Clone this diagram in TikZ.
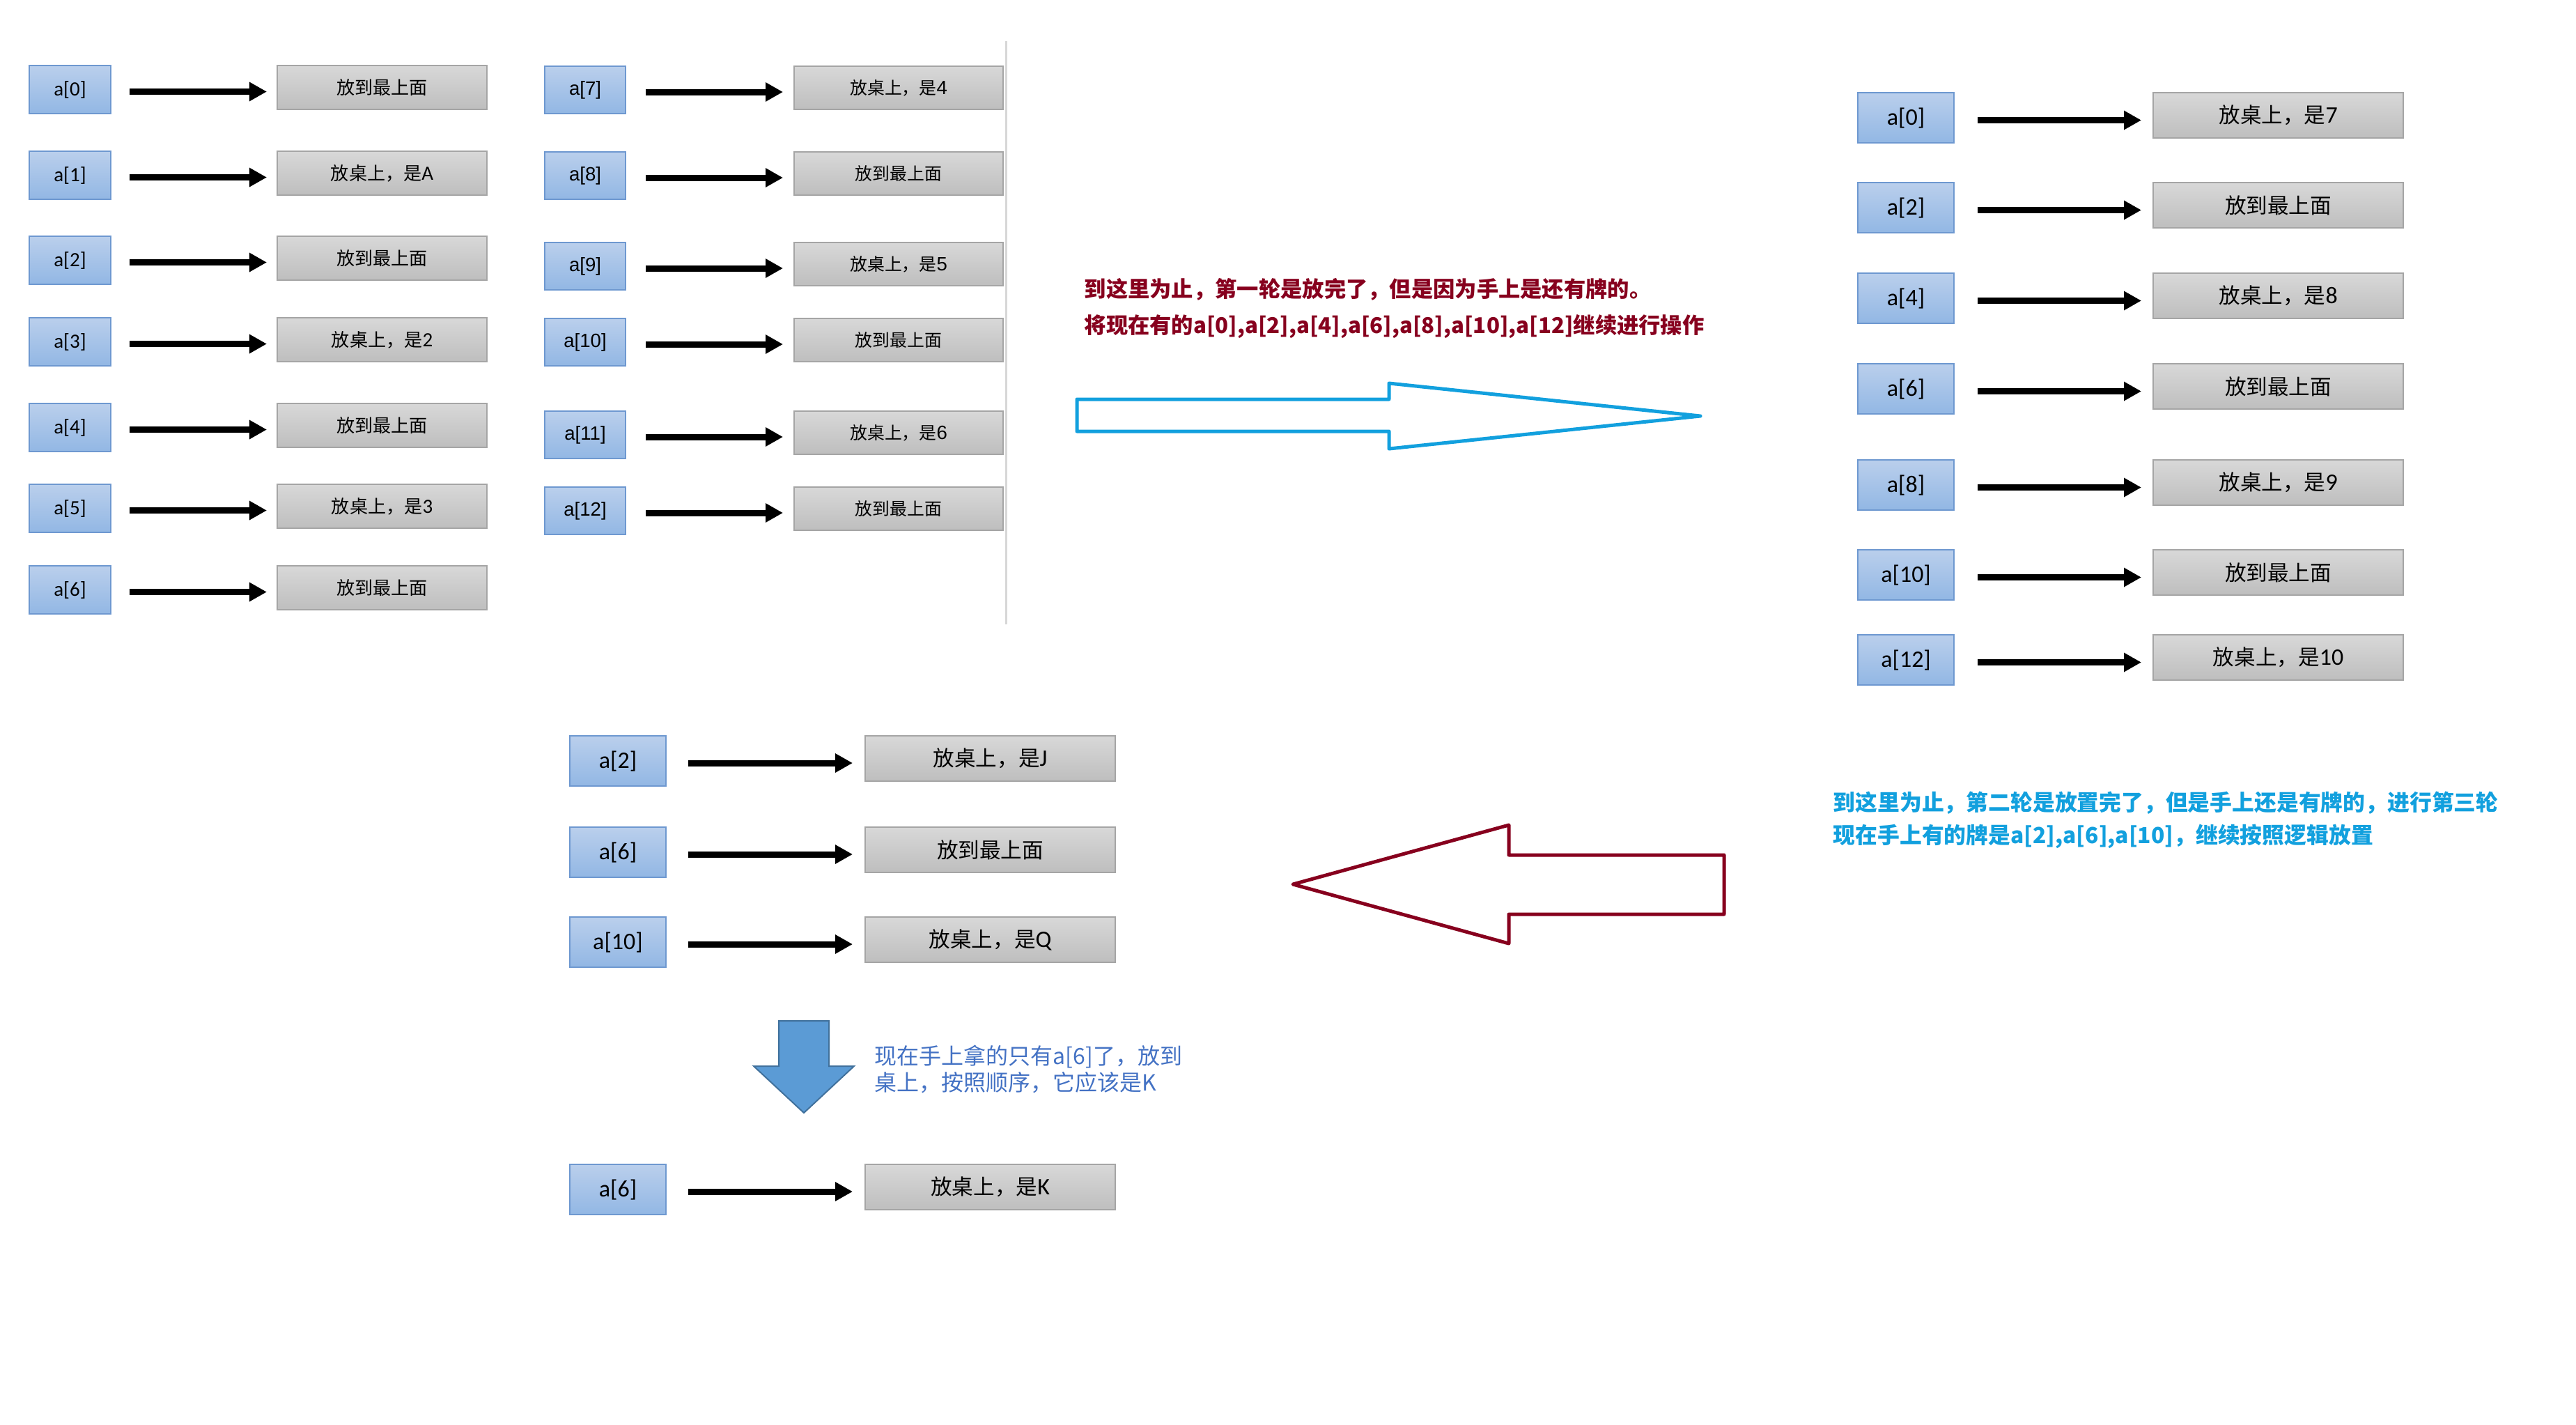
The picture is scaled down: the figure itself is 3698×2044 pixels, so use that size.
\documentclass[tikz,border=0pt]{standalone}
\usepackage{fontspec}
\setmainfont{Carlito}
\newfontfamily\arialf{Liberation Sans}
\newfontfamily\cjk[Scale=0.9]{Noto Sans CJK SC}
\newfontfamily\cjkt{Noto Sans CJK SC}
\usetikzlibrary{arrows.meta,calc}
\newcommand\zh[1]{{\cjk #1}}
\newcommand\conlink[5]{\draw[conn] ($(#1.north east)+(#3,#5)$) -- ($(#2.north west)+(-#4,#5)$);}
\definecolor{btop}{RGB}{186,207,236}
\definecolor{bbot}{RGB}{146,183,228}
\definecolor{bbord}{RGB}{110,152,208}
\definecolor{gtop}{RGB}{216,216,216}
\definecolor{gbot}{RGB}{190,190,190}
\definecolor{gbord}{RGB}{165,165,165}
\definecolor{myred}{RGB}{135,0,30}
\definecolor{mycyan}{RGB}{18,160,222}
\definecolor{myblue}{RGB}{68,114,196}
\definecolor{afill}{RGB}{91,155,213}
\definecolor{aline}{RGB}{65,113,156}
\definecolor{vline}{RGB}{215,215,215}
\tikzset{
  bluebox/.style={draw=bbord, line width=0.02cm, top color=btop, bottom color=bbot, inner sep=0pt, anchor=north west, text=black},
  graybox/.style={draw=gbord, line width=0.02cm, top color=gtop, bottom color=gbot, inner sep=0pt, anchor=north west, text=black},
  conn/.style={line width=0.09cm, -{Triangle[length=0.25cm,width=0.26cm]}},
  bA/.style={bluebox, minimum width=1.17cm, minimum height=0.69cm, font=\fontsize{8.25}{10}\selectfont},
  gA/.style={graybox, minimum width=3.01cm, minimum height=0.63cm, font=\fontsize{8.25}{10}\selectfont},
  bB/.style={bluebox, minimum width=1.16cm, minimum height=0.68cm, font=\arialf\fontsize{7.85}{10}\selectfont},
  gB/.style={graybox, minimum width=3.00cm, minimum height=0.62cm, font=\arialf\fontsize{7.85}{10}\selectfont},
  bC/.style={bluebox, minimum width=1.38cm, minimum height=0.72cm, font=\fontsize{9.67}{11}\selectfont},
  gC/.style={graybox, minimum width=3.59cm, minimum height=0.65cm, font=\fontsize{9.67}{11}\selectfont},
  note/.style={inner sep=0pt, anchor=west},
  hollow/.style={line width=0.05cm, line join=round},
}
\begin{document}
\begin{tikzpicture}[x=0.01cm, y=-0.01cm]
\fill[white] (0,0) rectangle (3698,2044);
\useasboundingbox (0,0) rectangle (3698,2044);

% ---- group 1 ----
\node[bA] (a0) at (41,93)  {a[0]}; \node[gA] (c0) at (397,93)  {\zh{放到最上面}};
\node[bA] (a1) at (41,216) {a[1]}; \node[gA] (c1) at (397,216) {\zh{放桌上，是}A};
\node[bA] (a2) at (41,338) {a[2]}; \node[gA] (c2) at (397,338) {\zh{放到最上面}};
\node[bA] (a3) at (41,455) {a[3]}; \node[gA] (c3) at (397,455) {\zh{放桌上，是}2};
\node[bA] (a4) at (41,578) {a[4]}; \node[gA] (c4) at (397,578) {\zh{放到最上面}};
\node[bA] (a5) at (41,694) {a[5]}; \node[gA] (c5) at (397,694) {\zh{放桌上，是}3};
\node[bA] (a6) at (41,811) {a[6]}; \node[gA] (c6) at (397,811) {\zh{放到最上面}};
\foreach \i in {0,...,6}{\conlink{a\i}{c\i}{26}{14}{38.5}}

% ---- group 2 ----
\node[bB] (a7)  at (781,94)  {a[7]};  \node[gB] (c7)  at (1139,94)  {\zh{放桌上，是}4};
\node[bB] (a8)  at (781,217) {a[8]};  \node[gB] (c8)  at (1139,217) {\zh{放到最上面}};
\node[bB] (a9)  at (781,347) {a[9]};  \node[gB] (c9)  at (1139,347) {\zh{放桌上，是}5};
\node[bB] (a10) at (781,456) {a[10]}; \node[gB] (c10) at (1139,456) {\zh{放到最上面}};
\node[bB] (a11) at (781,589) {a[11]}; \node[gB] (c11) at (1139,589) {\zh{放桌上，是}6};
\node[bB] (a12) at (781,698) {a[12]}; \node[gB] (c12) at (1139,698) {\zh{放到最上面}};
\foreach \i in {7,...,12}{\conlink{a\i}{c\i}{28}{15}{38}}

\draw[vline, line width=0.03cm] (1444,59) -- (1444,896);

% ---- round-1 note and arrow ----
\node[note, text=myred, font=\cjkt\bfseries\fontsize{8.9}{10}\selectfont] (n1) at (1556,415) {到这里为止，第一轮是放完了，但是因为手上是还有牌的。};
\node[note, text=myred, font=\cjkt\bfseries\fontsize{8.9}{10}\selectfont] (n2) at (1556,468) {将现在有的a[0],a[2],a[4],a[6],a[8],a[10],a[12]继续进行操作};
\draw[mycyan, hollow] (1546,573) -- (1994,573) -- (1994,550) -- (2441,597) -- (1994,644) -- (1994,619) -- (1546,619) -- cycle;

% ---- group 3 ----
\node[bC] (r0)  at (2666,132) {a[0]};  \node[gC] (s0)  at (3090,132) {\zh{放桌上，是}7};
\node[bC] (r2)  at (2666,261) {a[2]};  \node[gC] (s2)  at (3090,261) {\zh{放到最上面}};
\node[bC] (r4)  at (2666,391) {a[4]};  \node[gC] (s4)  at (3090,391) {\zh{放桌上，是}8};
\node[bC] (r6)  at (2666,521) {a[6]};  \node[gC] (s6)  at (3090,521) {\zh{放到最上面}};
\node[bC] (r8)  at (2666,659) {a[8]};  \node[gC] (s8)  at (3090,659) {\zh{放桌上，是}9};
\node[bC] (r10) at (2666,788) {a[10]}; \node[gC] (s10) at (3090,788) {\zh{放到最上面}};
\node[bC] (r12) at (2666,910) {a[12]}; \node[gC] (s12) at (3090,910) {\zh{放桌上，是}10};
\foreach \i in {0,2,4,6,8,10,12}{\conlink{r\i}{s\i}{33}{16}{40.5}}

% ---- round-2 note and arrow ----
\node[note, text=mycyan, font=\cjkt\bfseries\fontsize{9.05}{10}\selectfont] (n3) at (2631,1152) {到这里为止，第二轮是放置完了，但是手上还是有牌的，进行第三轮};
\node[note, text=mycyan, font=\cjkt\bfseries\fontsize{9.05}{10}\selectfont] (n4) at (2631,1200) {现在手上有的牌是a[2],a[6],a[10]，继续按照逻辑放置};
\draw[myred, hollow] (2475,1227) -- (2166,1227) -- (2166,1184) -- (1856,1269) -- (2166,1354) -- (2166,1312) -- (2475,1312) -- cycle;

% ---- group 4 ----
\node[bC] (t2)  at (817,1055) {a[2]};  \node[gC] (u2)  at (1241,1055) {\zh{放桌上，是}J};
\node[bC] (t6)  at (817,1186) {a[6]};  \node[gC] (u6)  at (1241,1186) {\zh{放到最上面}};
\node[bC] (t10) at (817,1315) {a[10]}; \node[gC] (u10) at (1241,1315) {\zh{放桌上，是}Q};
\node[bC] (tk)  at (817,1670) {a[6]};  \node[gC] (uk)  at (1241,1670) {\zh{放桌上，是}K};
\foreach \i in {2,6,10,k}{\conlink{t\i}{u\i}{31}{17}{40}}

\draw[draw=aline, fill=afill, line width=0.02cm] (1118,1465) -- (1190,1465) -- (1190,1530) -- (1226,1530) -- (1154,1597) -- (1082,1530) -- (1118,1530) -- cycle;
\node[note, text=myblue, font=\cjkt\fontsize{9.1}{10}\selectfont] (n5) at (1255,1516) {现在手上拿的只有a[6]了，放到};
\node[note, text=myblue, font=\cjkt\fontsize{9.1}{10}\selectfont] (n6) at (1255,1554) {桌上，按照顺序，它应该是K};
\end{tikzpicture}
\end{document}
